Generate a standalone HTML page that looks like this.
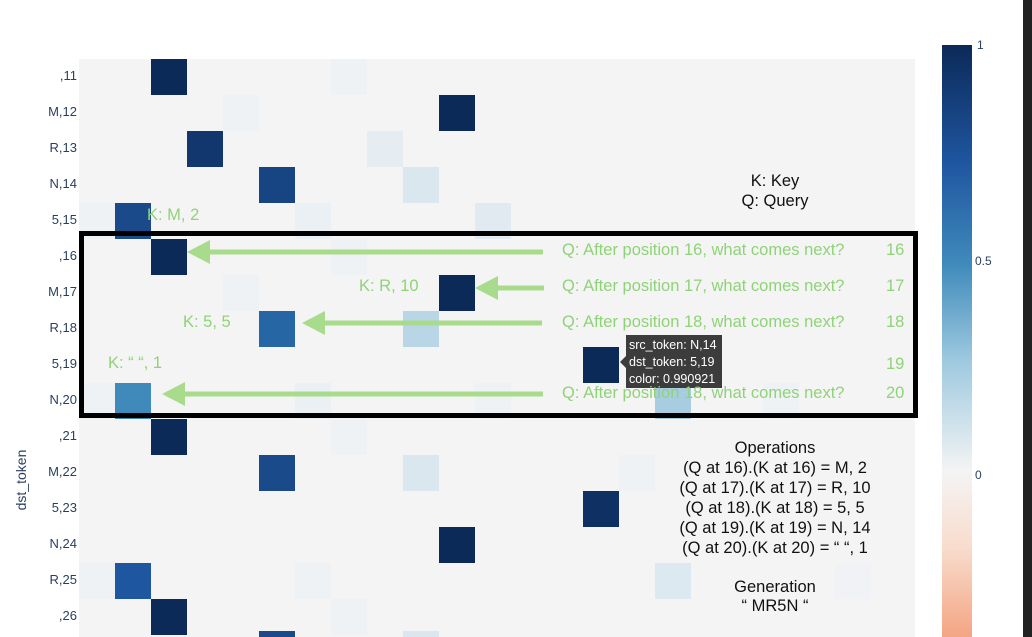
<!DOCTYPE html>
<html><head><meta charset="utf-8"><style>
body{margin:0;width:1032px;height:637px;overflow:hidden;background:#fff;font-family:"Liberation Sans",Arial,sans-serif;position:relative}
.a{position:absolute}
.yl{position:absolute;right:955px;font-size:13px;color:#2a3f5f;line-height:14px}
.g{position:absolute;color:#8fd378;font-size:16.5px;white-space:nowrap}
.b{position:absolute;color:#111;font-size:16.5px;white-space:nowrap;text-align:center;width:300px;left:625px}
</style></head><body>
<svg class="a" style="left:0;top:0" width="1032" height="637">
<rect x="79" y="59" width="836" height="578" fill="#f4f4f4"/>
<g>
<rect x="151" y="59" width="36" height="36" fill="#0b2a58"/><rect x="331" y="59" width="36" height="36" fill="#eff2f5"/>
<rect x="223" y="95" width="36" height="36" fill="#eff2f5"/><rect x="439" y="95" width="36" height="36" fill="#0b2a58"/>
<rect x="187" y="131" width="36" height="36" fill="#12376f"/><rect x="367" y="131" width="36" height="36" fill="#e5ecf2"/>
<rect x="259" y="167" width="36" height="36" fill="#174483"/><rect x="403" y="167" width="36" height="36" fill="#dbe7ef"/>
<rect x="79" y="203" width="36" height="36" fill="#eef2f5"/><rect x="115" y="203" width="36" height="36" fill="#1a4a8a"/><rect x="295" y="203" width="36" height="36" fill="#eaf0f3"/><rect x="475" y="203" width="36" height="36" fill="#e0eaf0"/>
<rect x="151" y="239" width="36" height="36" fill="#0b2a58"/><rect x="331" y="239" width="36" height="36" fill="#eff2f5"/>
<rect x="223" y="275" width="36" height="36" fill="#eff2f5"/><rect x="439" y="275" width="36" height="36" fill="#0b2a58"/>
<rect x="259" y="311" width="36" height="36" fill="#2766a5"/><rect x="403" y="311" width="36" height="36" fill="#b8d6e6"/>
<rect x="583" y="347" width="36" height="36" fill="#0b2a58"/>
<rect x="79" y="383" width="36" height="36" fill="#eef2f5"/><rect x="115" y="383" width="36" height="36" fill="#3f8abb"/><rect x="295" y="383" width="36" height="36" fill="#eaf0f3"/><rect x="475" y="383" width="36" height="36" fill="#eef2f5"/><rect x="655" y="383" width="36" height="36" fill="#a8cde0"/><rect x="763" y="383" width="36" height="36" fill="#eef2f5"/>
<rect x="151" y="419" width="36" height="36" fill="#0b2a58"/><rect x="331" y="419" width="36" height="36" fill="#eff2f5"/>
<rect x="259" y="455" width="36" height="36" fill="#1a4a8a"/><rect x="403" y="455" width="36" height="36" fill="#dbe7ef"/><rect x="619" y="455" width="36" height="36" fill="#eef2f5"/>
<rect x="583" y="491" width="36" height="36" fill="#0f3063"/>
<rect x="439" y="527" width="36" height="36" fill="#0b2a58"/>
<rect x="79" y="563" width="36" height="36" fill="#eef2f5"/><rect x="115" y="563" width="36" height="36" fill="#1f56a0"/><rect x="295" y="563" width="36" height="36" fill="#eef2f5"/><rect x="655" y="563" width="36" height="36" fill="#dde9f0"/><rect x="835" y="563" width="36" height="36" fill="#f0f2f5"/>
<rect x="151" y="599" width="36" height="36" fill="#0b2a58"/><rect x="331" y="599" width="36" height="36" fill="#eff2f5"/>
<rect x="259" y="631" width="36" height="6" fill="#1a4a8a"/><rect x="403" y="631" width="36" height="6" fill="#dbe7ef"/>
</g>
<defs><linearGradient id="cb" x1="0" y1="0" x2="0" y2="1">
<stop offset="0" stop-color="#0b2a58"/><stop offset="0.2" stop-color="#1f56a0"/><stop offset="0.37" stop-color="#3f8abb"/><stop offset="0.53" stop-color="#9cc8df"/><stop offset="0.72" stop-color="#f4f4f4"/><stop offset="0.85" stop-color="#f8dccd"/><stop offset="1" stop-color="#f4a583"/></linearGradient></defs>
<rect x="942" y="45" width="30" height="592" fill="url(#cb)"/>
<rect x="1023" y="0" width="9" height="637" fill="#222"/>
<rect x="81.5" y="233.5" width="834" height="182" fill="none" stroke="#000" stroke-width="5"/>
<g fill="#a8dc8c" stroke="#a8dc8c">
<line x1="210" y1="252" x2="543" y2="252" stroke-width="5"/><polygon points="187,252 210,240 210,264" stroke="none"/>
<line x1="498" y1="288" x2="544" y2="288" stroke-width="5"/><polygon points="475,288 498,276 498,300" stroke="none"/>
<line x1="325" y1="323" x2="542" y2="323" stroke-width="5"/><polygon points="302,323 325,311 325,335" stroke="none"/>
<line x1="185" y1="394" x2="543" y2="394" stroke-width="5"/><polygon points="162,394 185,382 185,406" stroke="none"/>
</g>
<rect x="626" y="335" width="96" height="53" fill="#3c3c3c"/><polygon points="620,362 626,356 626,368" fill="#3c3c3c"/>
</svg>
<div class="yl" style="top:69px">,11</div><div class="yl" style="top:105px">M,12</div><div class="yl" style="top:141px">R,13</div><div class="yl" style="top:177px">N,14</div><div class="yl" style="top:213px">5,15</div><div class="yl" style="top:249px">,16</div><div class="yl" style="top:285px">M,17</div><div class="yl" style="top:321px">R,18</div><div class="yl" style="top:357px">5,19</div><div class="yl" style="top:393px">N,20</div><div class="yl" style="top:429px">,21</div><div class="yl" style="top:465px">M,22</div><div class="yl" style="top:501px">5,23</div><div class="yl" style="top:537px">N,24</div><div class="yl" style="top:573px">R,25</div><div class="yl" style="top:609px">,26</div>
<div class="a" style="left:-14px;top:472px;width:70px;transform:rotate(-90deg);font-size:14px;color:#2a3f5f;text-align:center">dst_token</div>
<div class="a" style="left:977px;top:38px;font-size:12px;color:#2a3f5f">1</div>
<div class="a" style="left:975px;top:254px;font-size:12px;color:#2a3f5f">0.5</div>
<div class="a" style="left:975px;top:468px;font-size:12px;color:#2a3f5f">0</div>
<div class="g" style="left:562px;top:241px">Q: After position 16, what comes next?</div><div class="g" style="left:886px;top:241px">16</div>
<div class="g" style="left:562px;top:277px">Q: After position 17, what comes next?</div><div class="g" style="left:886px;top:277px">17</div>
<div class="g" style="left:562px;top:313px">Q: After position 18, what comes next?</div><div class="g" style="left:886px;top:313px">18</div>
<div class="g" style="left:886px;top:355px">19</div>
<div class="g" style="left:562px;top:384px">Q: After position 18, what comes next?</div><div class="g" style="left:886px;top:384px">20</div>
<div class="g" style="left:147px;top:206px">K: M, 2</div>
<div class="g" style="left:359px;top:277px">K: R, 10</div>
<div class="g" style="left:183px;top:313px">K: 5, 5</div>
<div class="g" style="left:108px;top:354px">K: “ “, 1</div>
<div class="a" style="left:629px;top:337px;color:#fff;font-size:12.5px;line-height:17px">src_token: N,14<br>dst_token: 5,19<br>color: 0.990921</div>
<div class="b" style="top:171px;line-height:20px">K: Key<br>Q: Query</div>
<div class="b" style="top:438px;line-height:20px">Operations<br>(Q at 16).(K at 16) = M, 2<br>(Q at 17).(K at 17) = R, 10<br>(Q at 18).(K at 18) = 5, 5<br>(Q at 19).(K at 19) = N, 14<br>(Q at 20).(K at 20) = “ “, 1</div>
<div class="b" style="top:578px;line-height:19px">Generation<br>“ MR5N “</div>
</body></html>
